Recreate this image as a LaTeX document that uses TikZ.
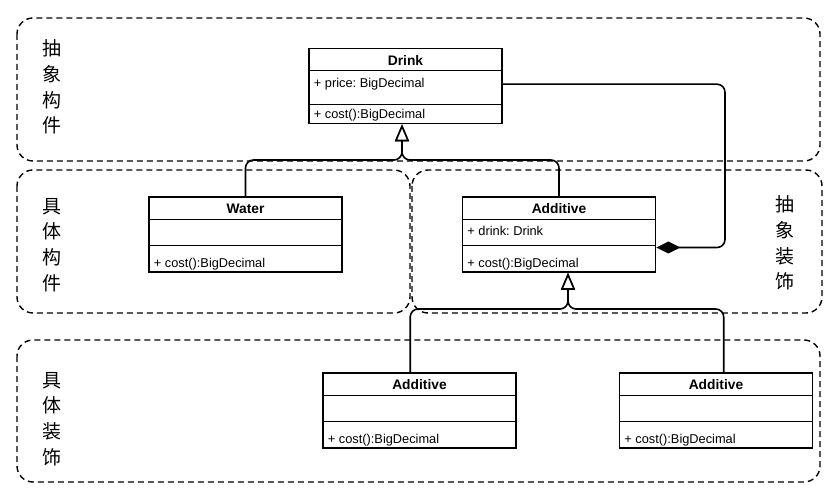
\documentclass[tikz,border=0pt]{standalone}
\usepackage{fontspec}
\setmainfont{Liberation Sans}
\newfontfamily\cjk{Noto Sans CJK SC}
\usetikzlibrary{arrows.meta, calc}
\frenchspacing

\begin{document}
\begin{tikzpicture}[x=1pt, y=-1pt,
    region/.style={draw, line width=1.4pt, dash pattern=on 6pt off 4pt, rounded corners=16pt},
    lane/.style={font=\cjk\fontsize{19}{25.7}\selectfont, align=center, inner sep=0pt},
    umlbox/.style={draw, line width=1.6pt, minimum width=193pt, minimum height=75pt, inner sep=0pt, fill=white},
    umlname/.style={font=\bfseries\fontsize{13.8}{15}\selectfont, inner sep=0pt},
    member/.style={font=\fontsize{12.8}{14}\selectfont, anchor=west, inner sep=0pt, text height=9pt, text depth=3pt},
    headline/.style={line width=1.3pt},
    sepline/.style={line width=0.8pt},
    link/.style={line width=1.6pt, rounded corners=8pt},
    inherit/.style={link, -{Triangle[open, length=17pt, width=14pt, fill=white]}},
    compose/.style={link, -{Diamond[length=24pt, width=12pt]}}
]
    \useasboundingbox (0,0) rectangle (839,500);
    % layers
    \draw[region] (17,18) rectangle (820,161);
    \draw[region] (17,170) rectangle (410,313);
    \draw[region] (412,170) rectangle (822,313);
    \draw[region] (17,340) rectangle (820,482);
    \node[lane] (abscomp) at (52,87) {抽\\象\\构\\件};
    \node[lane] (concomp) at (52,245) {具\\体\\构\\件};
    \node[lane] (absdeco) at (785,243) {抽\\象\\装\\饰};
    \node[lane] (condeco) at (52,419) {具\\体\\装\\饰};

    % classes
    \node[umlbox] (drink) at (405.5,86) {};
    \draw[headline] ($(drink.north west)+(0,23)$) -- ($(drink.north east)+(0,23)$);
    \draw[sepline] ($(drink.north west)+(0,57)$) -- ($(drink.north east)+(0,57)$);
    \node[umlname] (drinkname) at ($(drink.north)+(0,12.5)$) {Drink};
    \node[member] (drinkprice) at ($(drink.north west)+(5.5,36.5)$) {+ price: BigDecimal};
    \node[member] (drinkcost) at ($(drink.south west)+(5.5,-9)$) {+ cost():BigDecimal};

    \node[umlbox] (water) at (245.5,234.5) {};
    \draw[headline] ($(water.north west)+(0,23)$) -- ($(water.north east)+(0,23)$);
    \draw[sepline] ($(water.north west)+(0,49)$) -- ($(water.north east)+(0,49)$);
    \node[umlname] (watername) at ($(water.north)+(0,12.5)$) {Water};
    \node[member] (watercost) at ($(water.south west)+(5.5,-8.5)$) {+ cost():BigDecimal};

    \node[umlbox] (additive) at (559,234.5) {};
    \draw[headline] ($(additive.north west)+(0,23)$) -- ($(additive.north east)+(0,23)$);
    \draw[sepline] ($(additive.north west)+(0,49)$) -- ($(additive.north east)+(0,49)$);
    \node[umlname] (additivename) at ($(additive.north)+(0,12.5)$) {Additive};
    \node[member] (additivedrink) at ($(additive.north west)+(5.5,36)$) {+ drink: Drink};
    \node[member] (additivecost) at ($(additive.south west)+(5.5,-8.5)$) {+ cost():BigDecimal};

    \node[umlbox] (decoa) at (419.5,410.5) {};
    \draw[headline] ($(decoa.north west)+(0,23)$) -- ($(decoa.north east)+(0,23)$);
    \draw[sepline] ($(decoa.north west)+(0,49)$) -- ($(decoa.north east)+(0,49)$);
    \node[umlname] (decoaname) at ($(decoa.north)+(0,12.5)$) {Additive};
    \node[member] (decoacost) at ($(decoa.south west)+(5.5,-8.5)$) {+ cost():BigDecimal};

    \node[umlbox] (decob) at (716,410.5) {};
    \draw[headline] ($(decob.north west)+(0,23)$) -- ($(decob.north east)+(0,23)$);
    \draw[sepline] ($(decob.north west)+(0,49)$) -- ($(decob.north east)+(0,49)$);
    \node[umlname] (decobname) at ($(decob.north)+(0,12.5)$) {Additive};
    \node[member] (decobcost) at ($(decob.south west)+(5.5,-8.5)$) {+ cost():BigDecimal};

    % relations
    \coordinate (topjoin) at (402,160);
    \coordinate (botjoin) at (568,309);
    \coordinate (compbend) at (725,0);
    \coordinate (compend) at ($(additive.south east)!0.33!(additive.north east)$);
    \draw[inherit] (water.north) |- (topjoin) -- (topjoin |- drink.south);
    \draw[inherit] (additive.north) |- (topjoin) -- (topjoin |- drink.south);
    \draw[inherit] ($(decoa.north west)+(88,0)$) |- (botjoin) -- (botjoin |- additive.south);
    \draw[inherit] ($(decob.north west)+(105,0)$) |- (botjoin) -- (botjoin |- additive.south);
    \draw[compose] (drinkprice -| drink.east) -| (compbend |- compend) -- (compend);
\end{tikzpicture}
\end{document}
